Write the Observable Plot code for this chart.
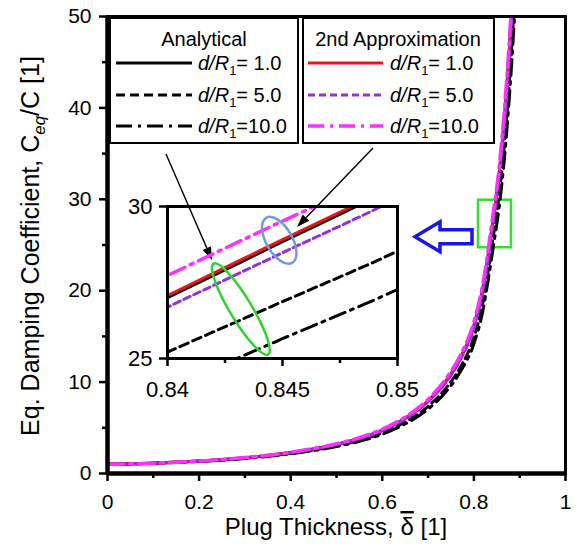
<!DOCTYPE html>
<html><head><meta charset="utf-8">
<script src="https://cdn.jsdelivr.net/npm/d3@7"></script>
<script src="https://cdn.jsdelivr.net/npm/@observablehq/plot@0.6"></script>
<style>
body{margin:0;background:#fff;}
#wrap{position:relative;width:580px;height:548px;font-family:"Liberation Sans",Arial,sans-serif;}
#inset{position:absolute;left:117px;top:198px;}
</style></head><body><div id="wrap"><div id="main"></div><div id="inset"></div></div>
<script>
// ---- data ----
const delta   = [0,0.1,0.2,0.3,0.4,0.5,0.55,0.6,0.65,0.7,0.74,0.77,0.8,0.82,0.83,0.84,0.845,0.85,0.86,0.87,0.88,0.89];
const ana1    = [1.00,1.13,1.36,1.72,2.29,3.19,3.84,4.74,6.03,7.93,10.2,12.6,16.15,20.35,23.45,27.00,28.84,30.68,35.1,40.9,48.2,56.9];
const ana5    = [1.00,1.12,1.33,1.67,2.20,3.03,3.62,4.45,5.63,7.35,9.4,11.6,14.9,18.8,21.8,25.21,26.87,28.53,32.6,38.0,44.8,53.0];
const ana10   = [1.00,1.12,1.32,1.65,2.16,2.95,3.52,4.30,5.42,7.05,9.0,11.1,14.2,17.9,20.8,24.02,25.65,27.27,31.2,36.4,43.0,51.0];
const app1    = [1.00,1.13,1.36,1.72,2.30,3.20,3.85,4.75,6.05,7.95,10.2,12.6,16.2,20.4,23.5,27.07,28.91,30.75,35.2,41.0,48.3,57.0];
const app5    = [1.00,1.13,1.35,1.71,2.28,3.17,3.81,4.70,5.98,7.85,10.05,12.4,15.95,20.1,23.15,26.69,28.48,30.27,34.7,40.4,47.6,56.0];
const app10   = [1.00,1.13,1.37,1.74,2.33,3.25,3.92,4.85,6.18,8.13,10.45,12.9,16.6,20.9,24.1,27.73,29.52,31.3,36.0,42.0,49.5,58.0];
const ratios  = ["1.0","5.0","10.0"];
const xTicks  = [0,0.2,0.4,0.6,0.8,1];
const xMinor  = [0.1,0.3,0.5,0.7,0.9];
const yTicks  = [0,10,20,30,40,50];
const yMinor  = [5,15,25,35,45];
const inXTicks = [0.84,0.845,0.85];
const inXMinor = [0.8425,0.8475];
const inYTicks = [25,30];

// ---- styles ----
const series = [
  {key:"ana1",  vals:ana1,  group:0, r:0, stroke:"#000000", dash:null,         w:3},
  {key:"ana5",  vals:ana5,  group:0, r:1, stroke:"#000000", dash:"9,5",        w:3},
  {key:"ana10", vals:ana10, group:0, r:2, stroke:"#000000", dash:"16,6,3,6",   w:3},
  {key:"app1",  vals:app1,  group:1, r:0, stroke:"#e8161c", dash:null,         w:3},
  {key:"app5",  vals:app5,  group:1, r:1, stroke:"#9430d8", dash:"7,4",        w:3},
  {key:"app10", vals:app10, group:1, r:2, stroke:"#ff30ff", dash:"16,6,3,6",   w:3.5}
];
const rows = series.flatMap(s => delta.map((d,i) => ({delta:d, value:s.vals[i], key:s.key})));
const lineMarks = () => series.map(s => Plot.line(rows.filter(r => r.key === s.key), {
  x:"delta", y:"value", stroke:s.stroke, strokeWidth:s.w,
  strokeDasharray: s.dash || undefined, curve:"monotone-x", clip:true
}));

// annotation geometry (data coordinates of each plot)
const zoomBox = [{x1:0.810, x2:0.882, y1:24.7, y2:29.9}];
const pointers = [{x1:0.1288, y1:34.9, x2:0.2293, y2:23.3}, {x1:0.5808, y1:35.56, x2:0.4148, y2:26.91}];
const hollowArrow = {x:0.6725, y:25.85};
const ellipses = [
  {x:0.84321, y:26.61, rx:53, ry:11, angle:59, color:"#2bd62b"},
  {x:0.84488, y:28.87, rx:26, ry:13, angle:60, color:"#6f9be3"}
];

const font = "Liberation Sans, Arial, sans-serif";

const main = Plot.plot({
  width:580, height:548,
  marginLeft:107, marginRight:15, marginTop:16, marginBottom:75,
  style:{fontFamily:font, fontSize:"21px", color:"black", background:"white", overflow:"visible"},
  x:{domain:[0,1], label:null},
  y:{domain:[0,50], label:null},
  marks:[
    Plot.rect(zoomBox, {x1:"x1", x2:"x2", y1:"y1", y2:"y2", fill:"none", stroke:"#2fe22f", strokeWidth:2.5}),
    (index, s) => {
      const g = d3.create("svg:g");
      const tx = s.x(hollowArrow.x), cy = s.y(hollowArrow.y);
      const hl = 25, len = 57, hh = 15, sh = 7;
      const pts = [[tx,cy],[tx+hl,cy-hh],[tx+hl,cy-sh],[tx+len,cy-sh],[tx+len,cy+sh],[tx+hl,cy+sh],[tx+hl,cy+hh]];
      g.append("path").attr("d","M"+pts.map(p=>p.join(",")).join("L")+"Z")
        .attr("fill","white").attr("stroke","#1616e8").attr("stroke-width",3.5).attr("stroke-linejoin","miter");
      return g.node();
    },
    ...lineMarks(),
    Plot.axisX(xTicks, {tickSize:8, tickPadding:13, strokeWidth:2.5, tickFormat:d=>String(d), label:null}),
    Plot.axisX(xMinor, {tickSize:5, strokeWidth:2.5, tickFormat:()=>"", label:null}),
    Plot.axisY(yTicks, {tickSize:8, tickPadding:8, strokeWidth:2.5, tickFormat:d=>String(d), label:null}),
    Plot.axisY(yMinor, {tickSize:5, strokeWidth:2.5, tickFormat:()=>"", label:null}),
    Plot.frame({strokeWidth:3}),
    Plot.ruleX([0], {strokeWidth:4.5}),
    Plot.ruleY([0], {strokeWidth:4.5}),
    (index, s) => {
      const g = d3.create("svg:g");
      for (const a of pointers) {
        const x1=s.x(a.x1), y1=s.y(a.y1), x2=s.x(a.x2), y2=s.y(a.y2);
        const ang=Math.atan2(y2-y1,x2-x1), L=13, W=4.5;
        const bx=x2-L*Math.cos(ang), by=y2-L*Math.sin(ang);
        g.append("line").attr("x1",x1).attr("y1",y1).attr("x2",bx).attr("y2",by).attr("stroke","black").attr("stroke-width",1.4);
        g.append("path").attr("d",`M${x2},${y2}L${bx+W*Math.sin(ang)},${by-W*Math.cos(ang)}L${bx-W*Math.sin(ang)},${by+W*Math.cos(ang)}Z`).attr("fill","black");
      }
      return g.node();
    }
  ]
});
document.getElementById("main").appendChild(main);

// axis titles and legend
const svg = d3.select(main);
const xt = svg.append("text").attr("x",336).attr("y",535).attr("text-anchor","middle")
  .attr("font-size",24).attr("font-family",font).attr("fill","black");
xt.append("tspan").text("Plug Thickness, ");
xt.append("tspan").attr("text-decoration","overline").style("text-decoration","overline").text("δ");
xt.append("tspan").text(" [1]");

const yt = svg.append("text").attr("transform","translate(39,246) rotate(-90)").attr("text-anchor","middle")
  .attr("font-size",25).attr("font-family",font).attr("fill","black");
yt.append("tspan").text("Eq. Damping Coefficient, C");
yt.append("tspan").attr("font-size",17).attr("font-style","italic").attr("dy",6).text("eq");
yt.append("tspan").attr("dy",-6).text("/C [1]");

const boxes = [
  {title:"Analytical", x:110, w:188, tx:204, lx1:116, lx2:192, textX:198},
  {title:"2nd Approximation", x:303, w:191, tx:398, lx1:308, lx2:383, textX:390}
];
const rowY = [63, 95, 126];
const lg = svg.append("g").attr("font-family",font).attr("font-size",20).attr("fill","black").attr("text-anchor","start");
boxes.forEach((b,gi) => {
  lg.append("rect").attr("x",b.x).attr("y",18).attr("width",b.w).attr("height",125)
    .attr("fill","white").attr("stroke","black").attr("stroke-width",2);
  lg.append("text").attr("x",b.tx).attr("y",46).attr("text-anchor","middle").text(b.title);
  series.filter(s=>s.group===gi).forEach(s => {
    const y = rowY[s.r];
    lg.append("line").attr("x1",b.lx1).attr("x2",b.lx2).attr("y1",y).attr("y2",y)
      .attr("stroke",s.stroke).attr("stroke-width",s.w).attr("stroke-dasharray",s.dash||null);
    const t = lg.append("text").attr("x",b.textX).attr("y",y+7).attr("text-anchor","start");
    t.append("tspan").attr("font-style","italic").text("d/R");
    t.append("tspan").attr("font-size",13).attr("dy",5).text("1");
    t.append("tspan").attr("dy",-5).text(ratios[s.r] === "10.0" ? "=10.0" : "= " + ratios[s.r]);
  });
});

// inset
const inset = Plot.plot({
  width:290, height:202,
  marginLeft:50, marginRight:10, marginTop:8, marginBottom:42,
  style:{fontFamily:font, fontSize:"22px", color:"black", background:"transparent", overflow:"visible"},
  x:{domain:[0.84,0.85], label:null},
  y:{domain:[25,30], label:null},
  marks:[
    ...lineMarks(),
    (index, s) => {
      const g = d3.create("svg:g");
      for (const e of ellipses) {
        g.append("ellipse").attr("rx",e.rx).attr("ry",e.ry)
          .attr("transform",`translate(${s.x(e.x)},${s.y(e.y)}) rotate(${e.angle})`)
          .attr("fill","none").attr("stroke",e.color).attr("stroke-width",2.5);
      }
      return g.node();
    },
    Plot.axisX(inXTicks, {tickSize:8, tickPadding:15, strokeWidth:2.5, tickFormat:d=>String(d), label:null}),
    Plot.axisX(inXMinor, {tickSize:5, strokeWidth:2.5, tickFormat:()=>"", label:null}),
    Plot.axisY(inYTicks, {tickSize:8, tickPadding:7, strokeWidth:2.5, tickFormat:d=>String(d), label:null}),
    Plot.frame({strokeWidth:3})
  ]
});
document.getElementById("inset").appendChild(inset);
</script></body></html>
